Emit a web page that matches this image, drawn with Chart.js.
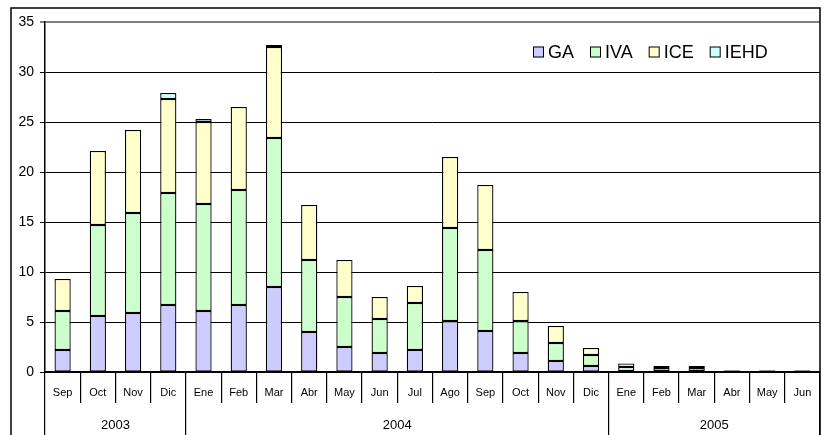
<!DOCTYPE html>
<html>
<head>
<meta charset="utf-8">
<script src="https://cdn.jsdelivr.net/npm/chart.js@4.4.0/dist/chart.umd.min.js"></script>
<style>
html,body{margin:0;padding:0;background:#fff;}
#wrap{width:830px;height:435px;position:relative;}
</style>
</head>
<body>
<div id="wrap"><canvas id="c" width="830" height="435"></canvas></div>
<script>
// ---- data ----
const months = ['Sep','Oct','Nov','Dic','Ene','Feb','Mar','Abr','May','Jun','Jul','Ago','Sep','Oct','Nov','Dic','Ene','Feb','Mar','Abr','May','Jun'];
const years = ['2003','2004','2005'];
const yearSpans = [4, 12, 6];
const seriesNames = ['GA','IVA','ICE','IEHD'];
const seriesColors = ['#CCCCFF','#CCFFCC','#FFFFCC','#CCFFFF'];
const GA   = [2.2,5.6,5.9,6.7,6.1,6.7,8.5,4.0,2.5,1.9,2.2,5.1,4.1,1.9,1.1,0.6,0.1,0.1,0.1,0.05,0.05,0.05];
const IVA  = [3.9,9.1,10.0,11.2,10.7,11.5,14.9,7.2,5.0,3.4,4.7,9.3,8.1,3.2,1.8,1.1,0.4,0.3,0.3,0.1,0.1,0.1];
const ICE  = [3.2,7.4,8.3,9.4,8.2,8.3,9.1,5.5,3.7,2.2,1.7,7.1,6.5,2.9,1.7,0.7,0.35,0.2,0.2,0.05,0.05,0.05];
const IEHD = [0,0,0,0.6,0.3,0,0.2,0,0,0,0,0,0,0,0,0,0,0,0,0,0,0];
const yTicks = [0,5,10,15,20,25,30,35];

// ---- derived year axis (category axis over month boundaries) ----
const yearBounds = [0];
yearSpans.forEach(s => yearBounds.push(yearBounds[yearBounds.length-1] + s));
const yearCenters = yearSpans.map((s,i) => yearBounds[i] + s/2);
const yearAxisLabels = [];
for (let i = 0; i <= months.length; i++) {
  const k = yearCenters.indexOf(i);
  yearAxisLabels.push(k >= 0 ? years[k] : '');
}

const FONT = "'Liberation Sans', Arial, Helvetica, sans-serif";
Chart.defaults.font.family = FONT;
Chart.defaults.color = '#000';

const seriesData = [GA, IVA, ICE, IEHD];

const frame = {
  id: 'frame',
  afterDraw(chart) {
    const ctx = chart.ctx;
    ctx.save();
    ctx.strokeStyle = '#000';
    ctx.lineWidth = 1.5;
    ctx.strokeRect(11, 8, chart.chartArea.right - 11, chart.height);
    ctx.restore();
  }
};

const inLegend = {
  id: 'inLegend',
  afterDraw(chart) {
    const ctx = chart.ctx;
    ctx.save();
    ctx.font = '18px ' + FONT;
    ctx.textBaseline = 'middle';
    let x = 533;
    const cy = 52;
    chart.data.datasets.forEach(ds => {
      ctx.fillStyle = ds.backgroundColor;
      ctx.fillRect(x, cy - 5.5, 11, 11);
      ctx.strokeStyle = '#000';
      ctx.lineWidth = 1;
      ctx.strokeRect(x + 0.5, cy - 5, 10, 10);
      ctx.fillStyle = '#000';
      ctx.fillText(ds.label, x + 15, cy + 1);
      x += 15 + ctx.measureText(ds.label).width + 16;
    });
    ctx.restore();
  }
};

new Chart(document.getElementById('c'), {
  type: 'bar',
  data: {
    labels: months,
    datasets: seriesNames.map((n, i) => ({
      label: n,
      data: seriesData[i],
      backgroundColor: seriesColors[i],
      borderColor: '#000',
      borderWidth: 1.3,
      borderSkipped: false,
      barPercentage: 0.46,
      categoryPercentage: 1.0,
      xAxisID: 'x',
      yAxisID: 'y'
    }))
  },
  options: {
    responsive: false,
    animation: false,
    layout: { padding: { left: 10, right: 10, top: 22, bottom: 0 } },
    plugins: { legend: { display: false }, tooltip: { enabled: false } },
    scales: {
      x: {
        type: 'category',
        position: 'bottom',
        weight: 0,
        stacked: true,
        offset: true,
        grid: { offset: true, drawOnChartArea: false, drawTicks: true, tickLength: 31, color: '#000', lineWidth: 1.2 },
        border: { display: true, color: '#000', width: 2 },
        ticks: { autoSkip: false, maxRotation: 0, minRotation: 0, padding: -16.6, font: { size: 11 }, color: '#000' },
        afterFit: s => { s.height = 31; }
      },
      x2: {
        type: 'category',
        labels: yearAxisLabels,
        position: 'bottom',
        weight: 1,
        offset: false,
        afterFit: s => { s.height = 32; },
        border: { display: false },
        grid: {
          offset: false, drawOnChartArea: false, drawTicks: true, tickLength: 32, lineWidth: 1.2,
          color: c => yearBounds.includes(c.index) ? '#000' : 'rgba(0,0,0,0)'
        },
        ticks: {
          autoSkip: false, maxRotation: 0, minRotation: 0, padding: -17.8, font: { size: 13 }, color: '#000'
        }
      },
      y: {
        stacked: true,
        min: 0,
        max: 35,
        afterBuildTicks: s => { s.ticks = yTicks.map(v => ({ value: v })); },
        afterFit: s => { s.width = 35; },
        grid: {
          drawTicks: true, tickLength: 5,
          color: c => (c.tick && c.tick.value === 35) ? '#808080' : '#000',
          lineWidth: c => (c.tick && c.tick.value === 35) ? 2 : 1
        },
        border: { display: true, color: '#000', width: 1.5 },
        ticks: { padding: 6, font: { size: 14 }, color: '#000' }
      }
    }
  },
  plugins: [frame, inLegend]
});
</script>
</body>
</html>
